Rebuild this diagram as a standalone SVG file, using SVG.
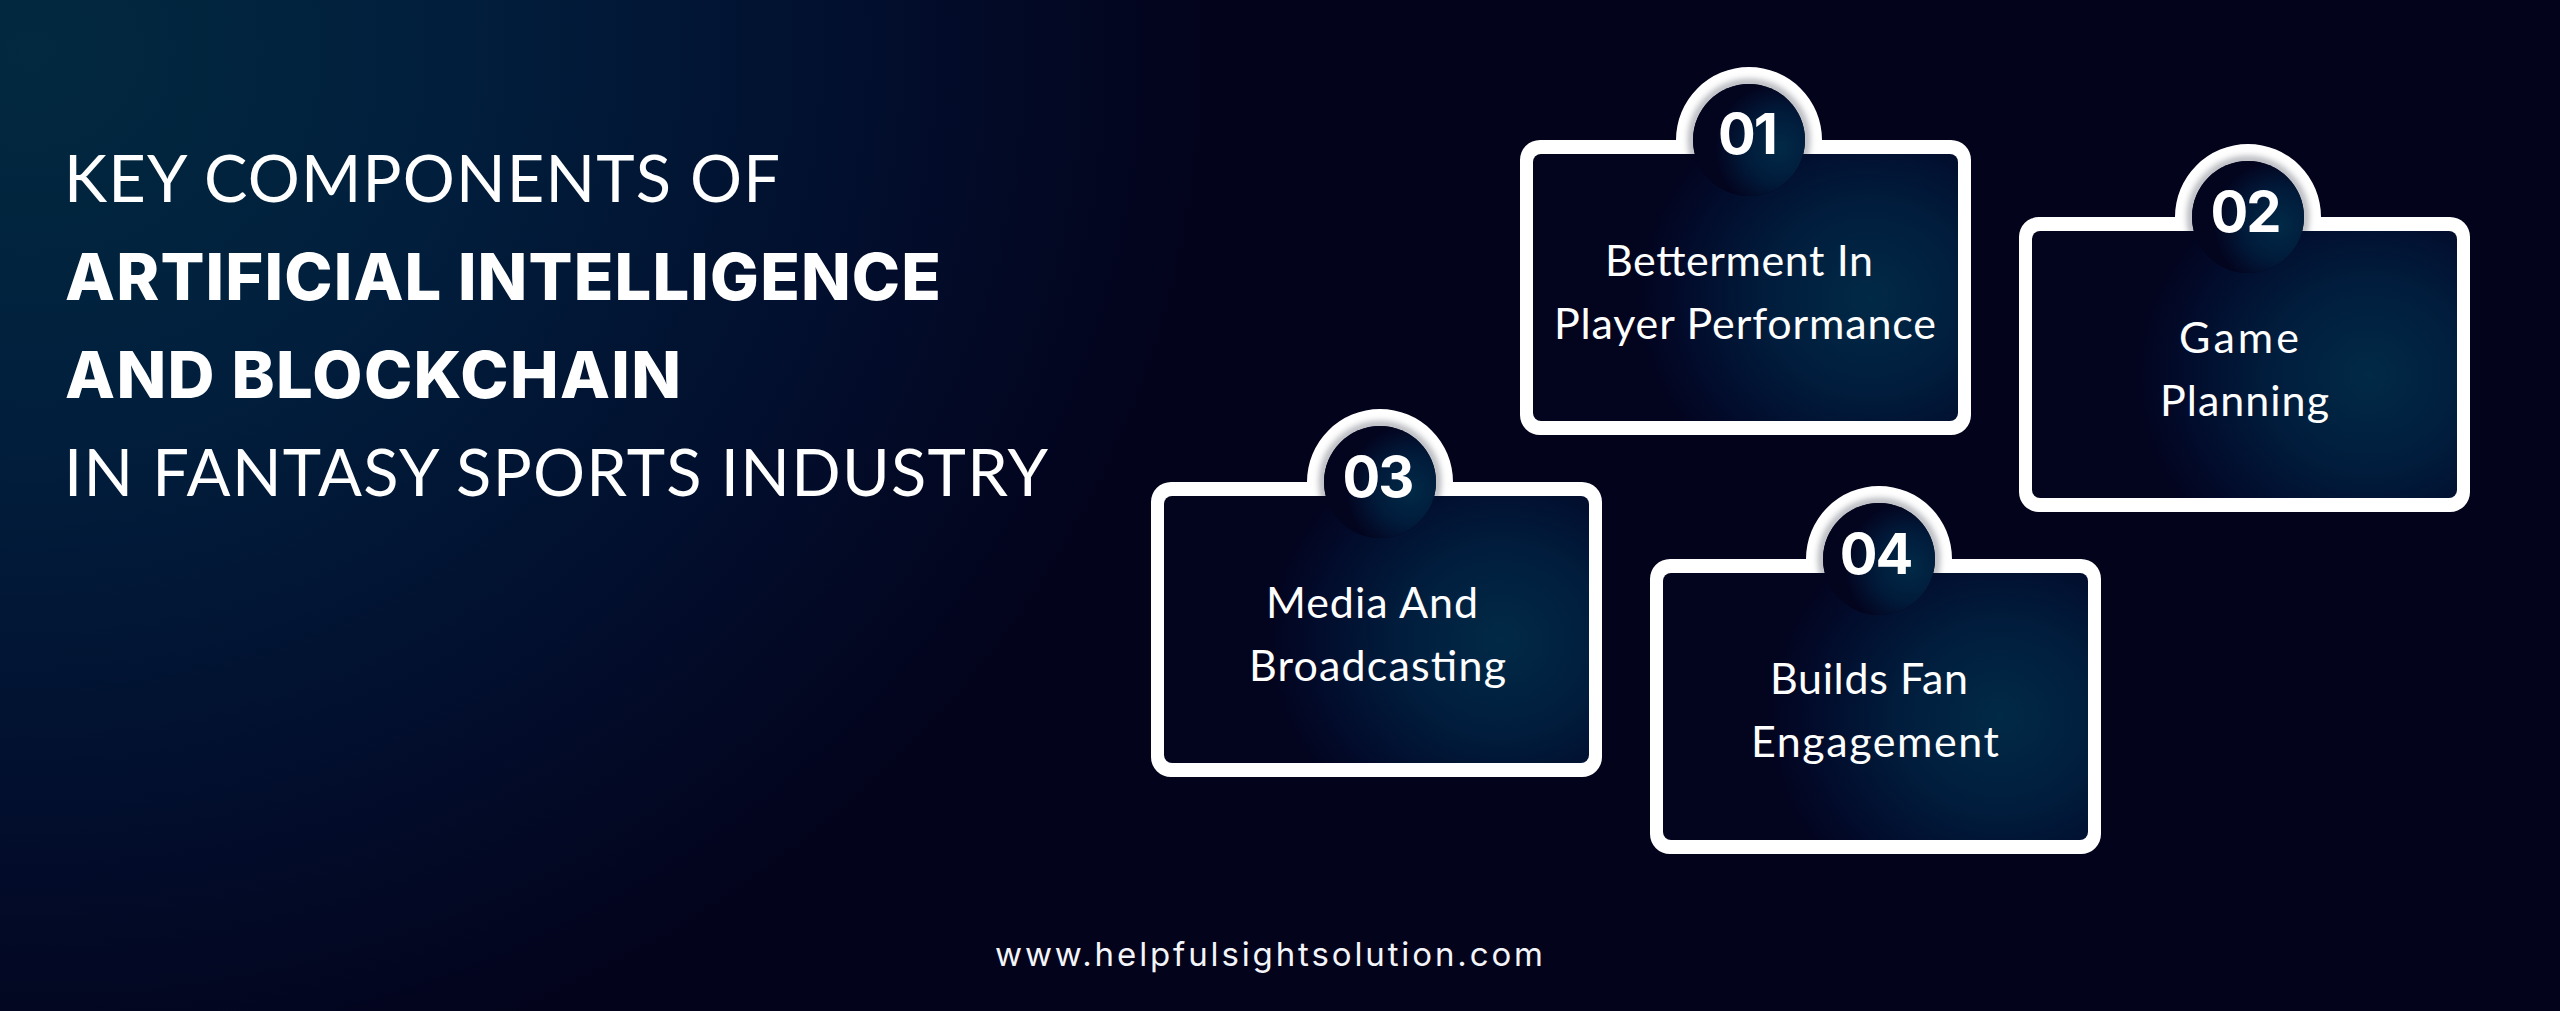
<svg xmlns="http://www.w3.org/2000/svg" xmlns:xlink="http://www.w3.org/1999/xlink" width="2560" height="1011" viewBox="0 0 2560 1011">
<defs>
<radialGradient id="bg" gradientUnits="userSpaceOnUse" cx="0" cy="0" r="1" gradientTransform="translate(30 50) scale(1180 1060)">
<stop offset="0" stop-color="#02293f"/><stop offset="0.35" stop-color="#011f3d"/><stop offset="0.7" stop-color="#020f2e"/><stop offset="1" stop-color="#03031c"/>
</radialGradient>
<radialGradient id="cardfill" gradientUnits="userSpaceOnUse" cx="0" cy="0" r="1" gradientTransform="translate(350 158) scale(235 215)">
<stop offset="0" stop-color="#012a47"/><stop offset="0.45" stop-color="#011c3c"/><stop offset="0.8" stop-color="#020b2b"/><stop offset="1" stop-color="#03041e"/>
</radialGradient>
<radialGradient id="badgefill" gradientUnits="userSpaceOnUse" cx="0" cy="0" r="1" gradientTransform="translate(260 8) scale(66 66)">
<stop offset="0" stop-color="#012a47"/><stop offset="0.55" stop-color="#011a3a"/><stop offset="1" stop-color="#03041e"/>
</radialGradient>
<filter id="soft" x="-30%" y="-30%" width="160%" height="160%"><feGaussianBlur stdDeviation="3.500"/></filter>
<clipPath id="archclip"><path d="M156 14V0A73 73 0 0 1 302 0V14Z"/></clipPath>
<g id="frame">
<path class="frameline" d="M20 0H156A73 73 0 0 1 302 0H431A20 20 0 0 1 451 20V275A20 20 0 0 1 431 295H20A20 20 0 0 1 0 275V20A20 20 0 0 1 20 0Z"/>
<g clip-path="url(#archclip)"><circle cx="229" cy="0" r="57" fill="none" stroke="#9a9ca4" stroke-width="6" filter="url(#soft)"/></g>
<rect x="13" y="14" width="425" height="267" rx="8" fill="url(#cardfill)"/>
<circle cx="229" cy="0" r="56" fill="#03041e"/>
<circle cx="229" cy="0" r="56" fill="url(#badgefill)"/>
</g>
</defs>
<style>
.frameline{fill:#fff}
.title{font-family:"Lato","Liberation Sans",sans-serif;font-size:65px;fill:#fff}
.light{font-weight:400}
.heavy{font-family:"Inter","Liberation Sans",sans-serif;font-weight:800;font-size:65px}
.label{font-family:"Lato","Liberation Sans",sans-serif;font-size:43px;fill:#fff;font-weight:400}
.num{font-family:"Inter","Liberation Sans",sans-serif;font-size:56px;fill:#fff;font-weight:700;letter-spacing:-2px}
.foot{font-family:"Inter","Liberation Sans",sans-serif;font-size:33px;fill:#f4f5fa;font-weight:400}
</style>
<rect width="2560" height="1011" fill="#03031c"/>
<rect width="2560" height="1011" fill="url(#bg)"/>
<g id="heading">
<text class="title light" x="64" y="202" textLength="716" lengthAdjust="spacing">KEY COMPONENTS OF</text>
<text class="title heavy" x="65" y="300" textLength="876" lengthAdjust="spacing">ARTIFICIAL INTELLIGENCE</text>
<text class="title heavy" x="65" y="398" textLength="616" lengthAdjust="spacing">AND BLOCKCHAIN</text>
<text class="title light" x="64" y="496" textLength="984" lengthAdjust="spacing">IN FANTASY SPORTS INDUSTRY</text>
</g>
<g id="card-01" transform="translate(1520 140)">
<use xlink:href="#frame"/>
<text class="num" x="227" y="14" text-anchor="middle">01</text>
<text class="label" x="85" y="136" textLength="268" lengthAdjust="spacing">Betterment In</text>
<text class="label" x="34" y="199" textLength="382" lengthAdjust="spacing">Player Performance</text>
</g>
<g id="card-02" transform="translate(2019 217)">
<use xlink:href="#frame"/>
<text class="num" x="226" y="15" text-anchor="middle">02</text>
<text class="label" x="160" y="136" textLength="120" lengthAdjust="spacing">Game</text>
<text class="label" x="141" y="199" textLength="169" lengthAdjust="spacing">Planning</text>
</g>
<g id="card-03" transform="translate(1151 482)">
<use xlink:href="#frame"/>
<text class="num" x="226.500" y="15" text-anchor="middle">03</text>
<text class="label" x="115" y="136" textLength="212" lengthAdjust="spacing">Media And</text>
<text class="label" x="98" y="199" textLength="257" lengthAdjust="spacing">Broadcasting</text>
</g>
<g id="card-04" transform="translate(1650 559)">
<use xlink:href="#frame"/>
<text class="num" x="225.500" y="15" text-anchor="middle">04</text>
<text class="label" x="120" y="135" textLength="198" lengthAdjust="spacing">Builds Fan</text>
<text class="label" x="101" y="198" textLength="248" lengthAdjust="spacing">Engagement</text>
</g>
<g id="footer"><text class="foot" x="995" y="966" textLength="548" lengthAdjust="spacing">www.helpfulsightsolution.com</text></g>
</svg>
